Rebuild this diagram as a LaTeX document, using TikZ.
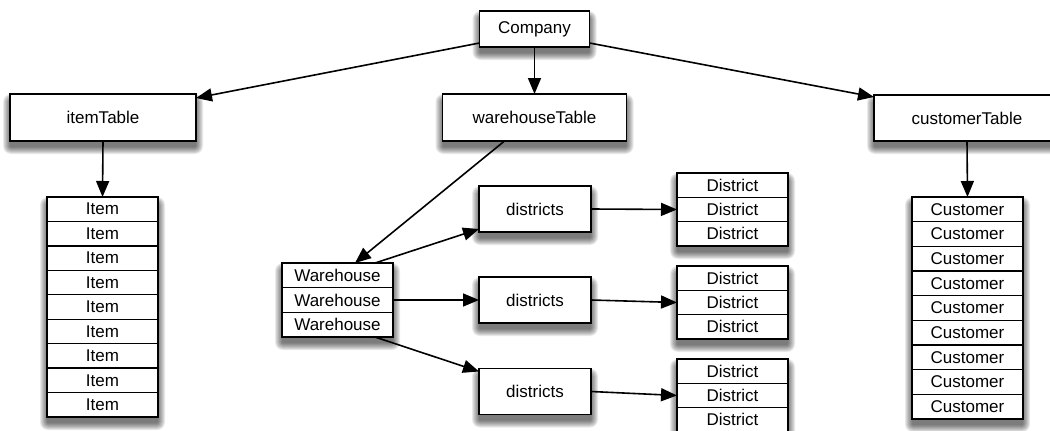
\documentclass[tikz,border=0pt]{standalone}
\usepackage{fontspec}
\setmainfont{Liberation Sans}
\usetikzlibrary{arrows.meta,calc,backgrounds}

\tikzset{
  box/.style={draw, line width=1.8pt, fill=white, inner sep=0pt, outer sep=0pt,
      font=\fontsize{17pt}{20pt}\selectfont},
  frame/.style={draw, line width=1.8pt, fill=white, inner sep=0pt, outer sep=0pt,
      minimum width=111pt},
  cell/.style={draw, line width=1.4pt, inner sep=0pt, outer sep=0pt,
      minimum width=111pt, font=\fontsize{17pt}{20pt}\selectfont},
  arr/.style={line width=1.6pt, -{Triangle[length=16pt,width=13pt]}},
}

% soft drop shadow under a node: stacked translucent rectangles
\newcommand\softshadow[1]{%
  \foreach \r in {1,...,8}{%
    \fill[black, opacity=0.085, rounded corners=\r pt]
      ($(#1.north west)+({1-\r},{8-\r})$) rectangle ($(#1.south east)+({\r-1},{5+\r})$);
  }%
}

\begin{document}
\begin{tikzpicture}[x=1pt,y=-1pt]
\useasboundingbox (0,0) rectangle (1050,431);
\clip (0,0) rectangle (1050,431);

% top level and the three tables
\node[box, minimum width=110pt, minimum height=36pt] (company) at (534.5,29) {Company};
\node[box, minimum width=186pt, minimum height=47pt] (itab) at (103,117.5) {itemTable};
\node[box, minimum width=184pt, minimum height=47pt] (wtab) at (534.5,117.5) {warehouseTable};
\node[box, minimum width=186pt, minimum height=46pt] (ctab) at (967,118) {customerTable};

% item rows
\node[frame, minimum height=220pt] (items) at (102.5,307) {};
\foreach \i in {1,...,9}
  \node[cell, minimum height=24.44pt] (item\i) at (102.5,{197+24.44*(\i-0.5)}) {Item};

% customer rows
\node[frame, minimum height=222pt] (custs) at (967.5,308) {};
\foreach \i in {1,...,9}
  \node[cell, minimum height=24.67pt] (cust\i) at (967.5,{197+24.67*(\i-0.5)}) {Customer};

% warehouse rows
\node[frame, minimum height=74pt] (whs) at (337.5,300) {};
\foreach \i in {1,2,3}
  \node[cell, minimum height=24.67pt] (wh\i) at (337.5,{263+24.67*(\i-0.5)}) {Warehouse};

% district tables
\node[box, minimum width=112pt, minimum height=46pt] (d1) at (535,209) {districts};
\node[box, minimum width=112pt, minimum height=46pt] (d2) at (535,300) {districts};
\node[box, minimum width=112pt, minimum height=46pt] (d3) at (535,391.5) {districts};

% district rows
\foreach \s/\top in {1/173, 2/266, 3/359} {
  \node[frame, minimum height=73pt] (ds\s) at (732.5,{\top+36.5}) {};
  \foreach \i in {1,2,3}
    \node[cell, minimum height=24.33pt] (ds\s r\i) at (732.5,{\top+24.33*(\i-0.5)}) {District};
}

% shadows behind every box
\begin{pgfonlayer}{background}
  \foreach \n in {company,itab,wtab,ctab,items,custs,whs,d1,d2,d3,ds1,ds2,ds3}
    {\softshadow{\n}}
\end{pgfonlayer}

% connectors
\draw[arr] ($(company.south west)+(0,-4)$) -- ($(itab.north east)+(0,4)$);
\draw[arr] (company.south) -- (wtab.north);
\draw[arr] ($(company.south east)+(0,-4)$) -- ($(ctab.north west)+(0,2)$);

\draw[arr] (itab.south) -- (item1.north);
\draw[arr] (ctab.south) -- (cust1.north);

\draw[arr] ($(wtab.south)+(-30,0)$) -- ($(wh1.north)+(17.5,0)$);
\draw[arr] ($(wh1.north)+(37.5,0)$) -- ($(d1.south west)+(0,-3)$);
\draw[arr] (wh2.east) -- (d2.west);
\draw[arr] ($(wh3.south)+(37.5,0)$) -- ($(d3.north west)+(0,3)$);

\draw[arr] (d1.east) -- (ds1r2.west);
\draw[arr] (d2.east) -- (ds2r2.west);
\draw[arr] (d3.east) -- (ds3r2.west);
\end{tikzpicture}
\end{document}
